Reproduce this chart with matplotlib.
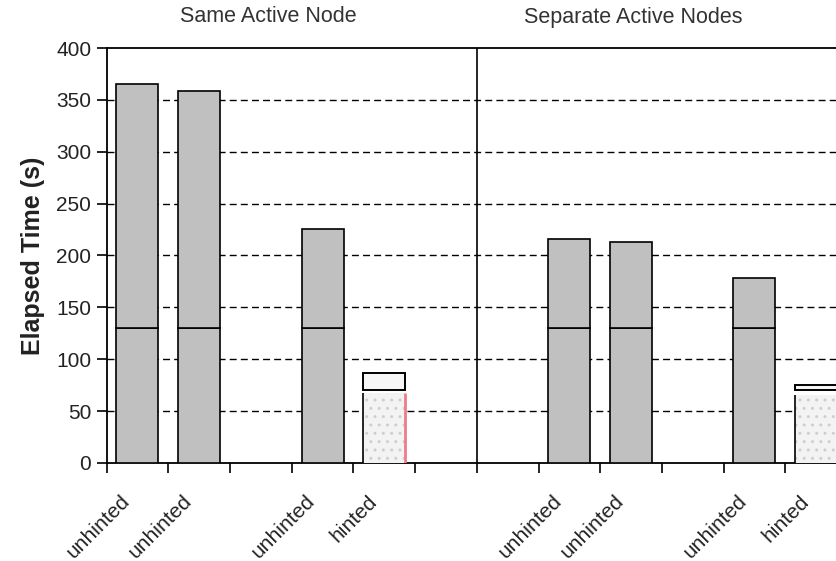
import matplotlib
matplotlib.use("Agg")
import matplotlib.pyplot as plt
import matplotlib.transforms as mtransforms
import numpy as np

plt.rcParams['font.family'] = ['Liberation Sans', 'DejaVu Sans']
plt.rcParams['hatch.linewidth'] = 1.0

# ---- data ----
slot_labels = ['unhinted', 'unhinted', '', 'unhinted', 'hinted', '',
               '', 'unhinted', 'unhinted', '', 'unhinted', 'hinted']
base_time = [130, 130, 0, 130, 0, 0, 0, 130, 130, 0, 130, 0]
total_time = [365, 359, 0, 226, 0, 0, 0, 216, 213, 0, 178, 0]
hinted_fill = [0, 0, 0, 0, 67, 0, 0, 0, 0, 0, 0, 66]
hinted_box_low = [0, 0, 0, 0, 70.5, 0, 0, 0, 0, 0, 0, 70]
hinted_box_high = [0, 0, 0, 0, 86.5, 0, 0, 0, 0, 0, 0, 75]
group_titles = ['Same Active Node', 'Separate Active Nodes']
group_title_pos = [2.12, 8.03]
y_ticks = [0, 50, 100, 150, 200, 250, 300, 350, 400]

W, H = 836, 561
fig = plt.figure(figsize=(W / 100, H / 100), dpi=100)
ax = fig.add_axes([106.6 / W, 1 - 463 / H, 740.4 / W, 415 / H])

x = np.arange(len(slot_labels))
base = np.array(base_time, float)
total = np.array(total_time, float)
fill = np.array(hinted_fill, float)
blo = np.array(hinted_box_low, float)
bhi = np.array(hinted_box_high, float)
bw = 0.68

ub = total > 0
ax.bar(x[ub], base[ub], width=bw, color='#c0c0c0', edgecolor='black', lw=1.2, zorder=3)
ax.bar(x[ub], (total - base)[ub], bottom=base[ub], width=bw, color='#c0c0c0',
       edgecolor='black', lw=1.2, zorder=3)

hb = fill > 0
ax.bar(x[hb], fill[hb], width=bw, color='#f3f3f3', edgecolor='#cfcfcf', hatch='..',
       lw=0, zorder=3)
ax.vlines(x[hb] - bw / 2, 0, fill[hb], color='black', lw=1.2, zorder=4)
ax.vlines(x[hb] + bw / 2 - 0.01, 0, fill[hb], color='#f07a8a', lw=2, zorder=4)
ax.bar(x[hb], (bhi - blo)[hb], bottom=blo[hb], width=bw, color='#f6f6f6',
       edgecolor='black', lw=1.4, zorder=4)

ax.set_xlim(-0.5, len(slot_labels) - 0.5)
ax.set_ylim(0, 400)
ax.set_yticks(y_ticks)
ax.set_yticklabels([str(v) for v in y_ticks], fontsize=15, color='#222222')

for v in y_ticks[1:-1]:
    ax.axhline(v, color='black', lw=1.0, dashes=(5, 3), zorder=1)

ax.axvline(5.5, color='black', lw=1.2, zorder=2)

ax.set_xticks(np.arange(-0.5, len(slot_labels)), minor=False)
ax.set_xticklabels([])
ax.set_xticks(x, minor=True)
ax.set_xticklabels(slot_labels, minor=True, rotation=45, ha='right',
                   rotation_mode='anchor', fontsize=15, color='#222222')
ax.tick_params(axis='x', which='major', length=7, width=1.2, direction='out')
ax.tick_params(axis='x', which='minor', length=0, pad=14)
ax.tick_params(axis='y', length=7, width=1.2, pad=4)

offset = mtransforms.ScaledTranslation(-17 / 100, -9 / 100, fig.dpi_scale_trans)
for lab in ax.get_xticklabels(minor=True):
    lab.set_transform(lab.get_transform() + offset)

for s in ['left', 'bottom', 'top']:
    ax.spines[s].set_linewidth(1.3)
ax.spines['right'].set_visible(False)

ax.set_ylabel('Elapsed Time (s)', fontsize=18, fontweight='bold', color='#222222', labelpad=8)

for t, p in zip(group_titles, group_title_pos):
    ax.text(p, 1.0 + 31 / 415, t, transform=ax.get_xaxis_transform(), ha='center',
            va='center', fontsize=15.5, color='#333333')

fig.savefig('out.png', dpi=100)
